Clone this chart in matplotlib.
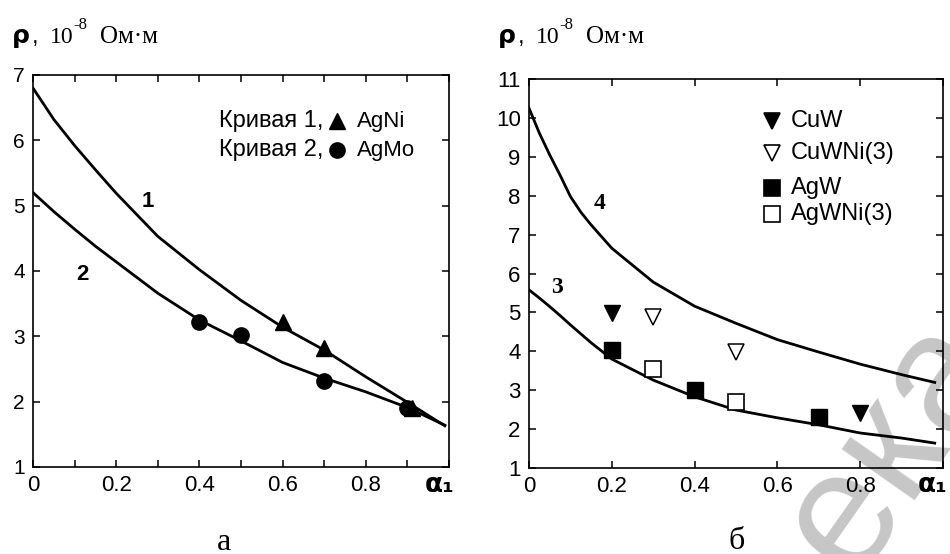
import matplotlib
matplotlib.use("Agg")
import matplotlib.pyplot as plt
from matplotlib.lines import Line2D

# ---------------- data ----------------
# panel a
x_c1 = [0.0, 0.05, 0.1, 0.15, 0.2, 0.3, 0.4, 0.5, 0.6, 0.7, 0.8, 0.9, 0.99]
rho_c1 = [6.80, 6.32, 5.92, 5.55, 5.19, 4.53, 4.02, 3.55, 3.14, 2.79, 2.38, 1.99, 1.63]
x_c2 = [0.0, 0.05, 0.1, 0.15, 0.2, 0.3, 0.4, 0.5, 0.6, 0.7, 0.8, 0.9, 0.99]
rho_c2 = [5.20, 4.91, 4.64, 4.38, 4.14, 3.66, 3.25, 2.93, 2.60, 2.36, 2.15, 1.91, 1.64]
agni_x = [0.6, 0.7, 0.91]
agni_y = [3.22, 2.82, 1.90]
agmo_x = [0.4, 0.5, 0.7, 0.9]
agmo_y = [3.22, 3.02, 2.32, 1.90]

# panel b
x_c4 = [0.0, 0.025, 0.05, 0.075, 0.1, 0.125, 0.15, 0.175, 0.2, 0.3, 0.4, 0.5,
        0.6, 0.7, 0.8, 0.9, 0.98]
rho_c4 = [10.25, 9.61, 9.05, 8.53, 7.98, 7.58, 7.25, 6.95, 6.65, 5.78, 5.16, 4.72,
          4.30, 3.98, 3.67, 3.40, 3.20]
x_c3 = [0.0, 0.025, 0.05, 0.075, 0.1, 0.15, 0.2, 0.3, 0.4, 0.5, 0.6, 0.7,
        0.8, 0.9, 0.98]
rho_c3 = [5.58, 5.37, 5.15, 4.92, 4.68, 4.22, 3.80, 3.26, 2.83, 2.49, 2.29, 2.11,
          1.90, 1.77, 1.64]
cuw_x = [0.2, 0.8]
cuw_y = [4.98, 2.41]
cuwni_x = [0.3, 0.5]
cuwni_y = [4.88, 3.98]
agw_x = [0.2, 0.4, 0.7]
agw_y = [4.03, 3.00, 2.31]
agwni_x = [0.3, 0.5]
agwni_y = [3.54, 2.70]

a_xticks = [0, 0.1, 0.2, 0.3, 0.4, 0.5, 0.6, 0.7, 0.8, 0.9, 1.0]
a_xlabels = ["0", "", "0.2", "", "0.4", "", "0.6", "", "0.8", "", ""]
a_yticks = [1, 2, 3, 4, 5, 6, 7]
b_xticks = [0, 0.2, 0.4, 0.6, 0.8, 1.0]
b_xlabels = ["0", "0.2", "0.4", "0.6", "0.8", ""]
b_yticks = [1, 2, 3, 4, 5, 6, 7, 8, 9, 10, 11]

W, H = 950, 554
fig = plt.figure(figsize=(W / 100, H / 100), dpi=100)
fig.patch.set_facecolor("white")

SANS = ["Liberation Sans", "DejaVu Sans"]
SERIF = ["Liberation Serif", "DejaVu Serif"]

def px_axes(l, t, r, b):
    return fig.add_axes([l / W, 1 - b / H, (r - l) / W, (b - t) / H])

axa = px_axes(33, 75, 449, 467)
axb = px_axes(529, 79, 943, 468)

LW = 2.0
for ax in (axa, axb):
    ax.patch.set_alpha(0)
    for s in ax.spines.values():
        s.set_linewidth(1.2)
    ax.tick_params(direction="in", top=True, right=True, length=5, width=1.1,
                   labelsize=16, pad=6)

# ---- panel a ----
axa.plot(x_c1, rho_c1, color="black", lw=LW, zorder=2)
axa.plot(x_c2, rho_c2, color="black", lw=LW, zorder=2)
axa.plot(agni_x, agni_y, "^", color="black", ms=11, ls="none", zorder=3)
axa.plot(agmo_x, agmo_y, "o", color="black", ms=11, ls="none", zorder=3)
axa.set_xlim(0, 1.0)
axa.set_ylim(1, 7)
axa.set_xticks(a_xticks)
axa.set_xticklabels(a_xlabels, family=SANS, fontsize=16)
axa.set_yticks(a_yticks)
axa.set_yticklabels([str(v) for v in a_yticks], family=SANS, fontsize=15)
axa.text(0.276, 5.06, "1", fontsize=16, fontweight="bold", family=SANS,
         ha="center", va="center")
axa.text(0.118, 3.94, "2", fontsize=16, fontweight="bold", family=SANS,
         ha="center", va="center")

# legend a (manual)
for row_y, lab, mk, name in [(121, "Кривая 1,", "^", "AgNi"),
                             (150, "Кривая 2,", "o", "AgMo")]:
    fig.text(323 / W, 1 - row_y / H, lab, ha="right", va="center",
             fontsize=17, family=SANS)
    fig.lines.append(Line2D([337 / W], [1 - row_y / H], marker=mk, color="black",
                            ms=11, ls="none", transform=fig.transFigure))
    fig.text(357 / W, 1 - row_y / H, name, ha="left", va="center",
             fontsize=16, family=SANS)

# ---- panel b ----
axb.plot(x_c4, rho_c4, color="black", lw=LW, zorder=2)
axb.plot(x_c3, rho_c3, color="black", lw=LW, zorder=2)
axb.plot(cuw_x, cuw_y, "v", color="black", ms=12, ls="none", zorder=3)
axb.plot(cuwni_x, cuwni_y, "v", mfc="white", mec="black", mew=1.1, ms=12,
         ls="none", zorder=3)
axb.plot(agw_x, agw_y, "s", color="black", ms=12, ls="none", zorder=3)
axb.plot(agwni_x, agwni_y, "s", mfc="white", mec="black", mew=1.2, ms=12,
         ls="none", zorder=3)
axb.set_xlim(0, 1.0)
axb.set_ylim(1, 11)
axb.set_xticks(b_xticks)
axb.set_xticklabels(b_xlabels, family=SANS, fontsize=16)
axb.set_yticks(b_yticks)
axb.set_yticklabels([str(v) for v in b_yticks], family=SANS, fontsize=16)
axb.text(0.171, 7.81, "4", fontsize=17, fontweight="bold", family=SERIF,
         ha="center", va="center")
axb.text(0.068, 5.65, "3", fontsize=17, fontweight="bold", family=SERIF,
         ha="center", va="center")

# legend b (manual)
for row_y, mk, filled, name in [(121, "v", True, "CuW"),
                                (153, "v", False, "CuWNi(3)"),
                                (188, "s", True, "AgW"),
                                (214, "s", False, "AgWNi(3)")]:
    fig.lines.append(Line2D([772 / W], [1 - row_y / H], marker=mk,
                            mfc="black" if filled else "white", mec="black",
                            mew=1.2, ms=11, ls="none", transform=fig.transFigure))
    fig.text(791 / W, 1 - row_y / H, name, ha="left", va="center",
             fontsize=17, family=SANS)

# ---- axis titles (ρ, 10^-8 Ом·м) ----
def rho_title(x0):
    base = 1 - 43 / H
    fig.text(x0 / W, base, "ρ", fontsize=18, fontweight="bold",
             family=["DejaVu Sans"], va="baseline", ha="left")
    fig.text((x0 + 20) / W, base, ",", fontsize=17, family=SANS,
             va="baseline", ha="left")
    fig.text((x0 + 38) / W, base, "10", fontsize=17, family=SERIF,
             va="baseline", ha="left")
    fig.text((x0 + 61) / W, 1 - 29 / H, "-8", fontsize=12, family=SERIF,
             va="baseline", ha="left")
    fig.text((x0 + 88) / W, base, "Ом·м", fontsize=18, family=SERIF,
             va="baseline", ha="left")

rho_title(12)
rho_title(498)

# ---- alpha_1 labels ----
for xa in (440, 933):
    fig.text(xa / W, 1 - 492 / H, "α₁", fontsize=19, fontweight="bold",
             family=["DejaVu Sans"], ha="center", va="baseline")

# ---- sub-figure letters ----
fig.text(224 / W, 1 - 550 / H, "а", fontsize=23, family=SERIF,
         ha="center", va="baseline")
fig.text(737 / W, 1 - 549 / H, "б", fontsize=23, family=SERIF,
         ha="center", va="baseline")

# ---- watermark ----
fig.text(852 / W, 1 - 580 / H, "ека", fontsize=122, color="#c6c6c6",
         family=SANS, rotation=55, rotation_mode="anchor", ha="left",
         va="baseline", zorder=-1)

fig.savefig("out.png", dpi=100, facecolor="white")
